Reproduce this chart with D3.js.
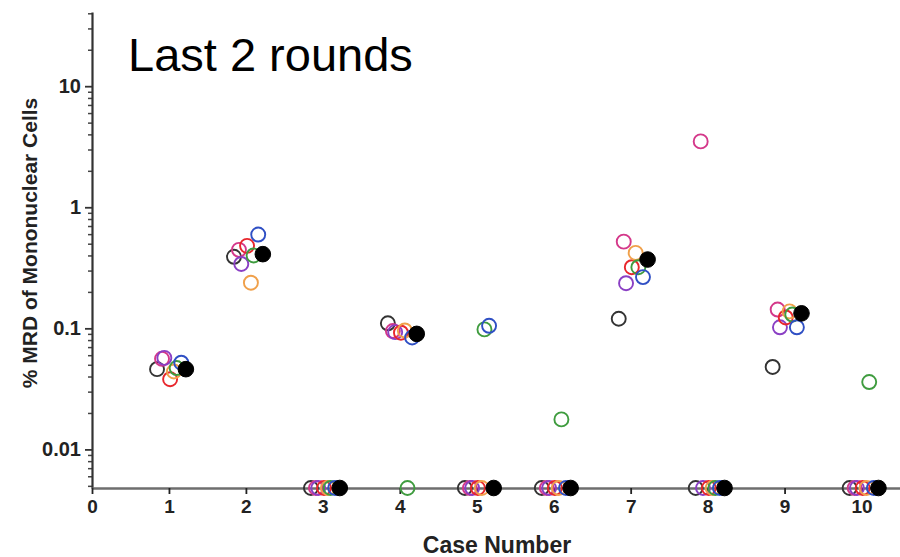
<!DOCTYPE html>
<html>
<head>
    <meta charset="utf-8">
    <title>Last 2 rounds</title>
    <script src="https://cdn.jsdelivr.net/npm/d3@7"></script>
    <style>
        body { margin: 0; background: #fff; }
        text { font-family: "Liberation Sans", Arial, sans-serif; }
        .tick-label { font-weight: bold; fill: #222; }
    </style>
</head>
<body>
<script>
    // case numbers on the x axis
    var cases = [1, 2, 3, 4, 5, 6, 7, 8, 9, 10];

    // % MRD per case, one array per series; 0 = not detected (drawn on the axis)
    var blackOpen   = [0.046, 0.39, 0, 0.11,  0,     0,      0.12,  0,   0.048, 0];
    var magenta     = [0.056, 0.445, 0, 0.095, 0,    0,      0.52,  3.5, 0.143, 0];
    var purple      = [0.057, 0.34, 0, 0.093, 0,     0,      0.236, 0,   0.102, 0];
    var red         = [0.038, 0.48, 0, 0.092, 0,     0,      0.32,  0,   0.123, 0];
    var orange      = [0.044, 0.238, 0, 0.096, 0,    0,      0.42,  0,   0.138, 0];
    var green       = [0.047, 0.40, 0, 0,     0.098, 0.0177, 0.32,  0,   0.13,  0.036];
    var blue        = [0.052, 0.595, 0, 0.084, 0.105, 0,     0.265, 0,   0.102, 0];
    var blackFilled = [0.046, 0.41, 0, 0.09,  0,     0,      0.37,  0,   0.133, 0];

    var yTickValues = [0.01, 0.1, 1, 10];
    var yTickLabels = ["0.01", "0.1", "1", "10"];
    var xTickValues = [0, 1, 2, 3, 4, 5, 6, 7, 8, 9, 10];

    // drawing order, colour and horizontal dodge of each series
    var series = [
        {values: blackOpen,   color: "#333333", filled: false, dodge: -0.155},
        {values: magenta,     color: "#d4388a", filled: false, dodge: -0.09},
        {values: purple,      color: "#8a3fc4", filled: false, dodge: -0.06},
        {values: red,         color: "#e8262c", filled: false, dodge: 0.015},
        {values: orange,      color: "#f0a04a", filled: false, dodge: 0.065},
        {values: green,       color: "#3f9c3f", filled: false, dodge: 0.10},
        {values: blue,        color: "#2f4fc4", filled: false, dodge: 0.16},
        {values: blackFilled, color: "#000000", filled: true,  dodge: 0.22}
    ];

    var width = 900,
        height = 557;

    var x = d3.scaleLinear().domain([0, 10.5]).range([92, 900]);
    var y = d3.scaleLog().domain([0.0048, 41]).range([488, 12]);
    var yMin = y.domain()[0];

    var svg = d3.select("body").append("svg")
        .attr("width", width)
        .attr("height", height);

    svg.append("rect").attr("width", width).attr("height", height).attr("fill", "#fff");

    // minor y ticks
    var minorValues = [];
    [0.001, 0.01, 0.1, 1, 10].forEach(function (d) {
        for (var i = 2; i <= 9; i++) {
            var v = d * i;
            if (v >= yMin && v <= 41) minorValues.push(v);
        }
    });

    var yMinor = svg.append("g")
        .attr("transform", "translate(92,0)")
        .call(d3.axisLeft(y).tickValues(minorValues).tickSize(4).tickFormat(""));
    yMinor.select(".domain").remove();
    yMinor.selectAll("line").attr("stroke", "#444").attr("stroke-width", 1.5);

    var yAxis = svg.append("g")
        .attr("transform", "translate(92,0)")
        .call(d3.axisLeft(y)
            .tickValues(yTickValues)
            .tickSize(7)
            .tickSizeOuter(0)
            .tickPadding(4)
            .tickFormat(function (d, i) { return yTickLabels[i]; }));
    yAxis.select(".domain").attr("stroke", "#333").attr("stroke-width", 2.2);
    yAxis.selectAll("line").attr("stroke", "#333").attr("stroke-width", 1.8);
    yAxis.selectAll("text")
        .attr("class", "tick-label")
        .style("font-size", "20px");

    var xAxis = svg.append("g")
        .attr("transform", "translate(0,488)")
        .call(d3.axisBottom(x)
            .tickValues(xTickValues)
            .tickSize(6)
            .tickSizeOuter(0)
            .tickPadding(6));
    xAxis.select(".domain").attr("stroke", "#6e6e6e").attr("stroke-width", 2.5);
    xAxis.selectAll("line").attr("stroke", "#222").attr("stroke-width", 1.8);
    xAxis.selectAll("text")
        .attr("class", "tick-label")
        .style("font-size", "19px");

    // points
    series.forEach(function (s) {
        svg.append("g")
            .selectAll("circle")
            .data(cases.map(function (c, i) { return {c: c, v: s.values[i]}; }))
            .enter().append("circle")
            .attr("cx", function (d) { return x(d.c + s.dodge); })
            .attr("cy", function (d) { return y(d.v > 0 ? d.v : yMin); })
            .attr("r", s.filled ? 7.8 : 7)
            .attr("fill", s.filled ? s.color : "none")
            .attr("stroke", s.color)
            .attr("stroke-width", s.filled ? 1 : 1.9);
    });

    // titles
    svg.append("text")
        .attr("x", 128)
        .attr("y", 71)
        .style("font-size", "47px")
        .attr("fill", "#000")
        .text("Last 2 rounds");

    svg.append("text")
        .attr("transform", "translate(37,243) rotate(-90)")
        .attr("text-anchor", "middle")
        .style("font-size", "21px")
        .style("font-weight", "bold")
        .attr("fill", "#222")
        .text("% MRD of Mononuclear Cells");

    svg.append("text")
        .attr("x", 497)
        .attr("y", 553)
        .attr("text-anchor", "middle")
        .style("font-size", "23px")
        .style("font-weight", "bold")
        .attr("fill", "#222")
        .text("Case Number");
</script>
</body>
</html>
